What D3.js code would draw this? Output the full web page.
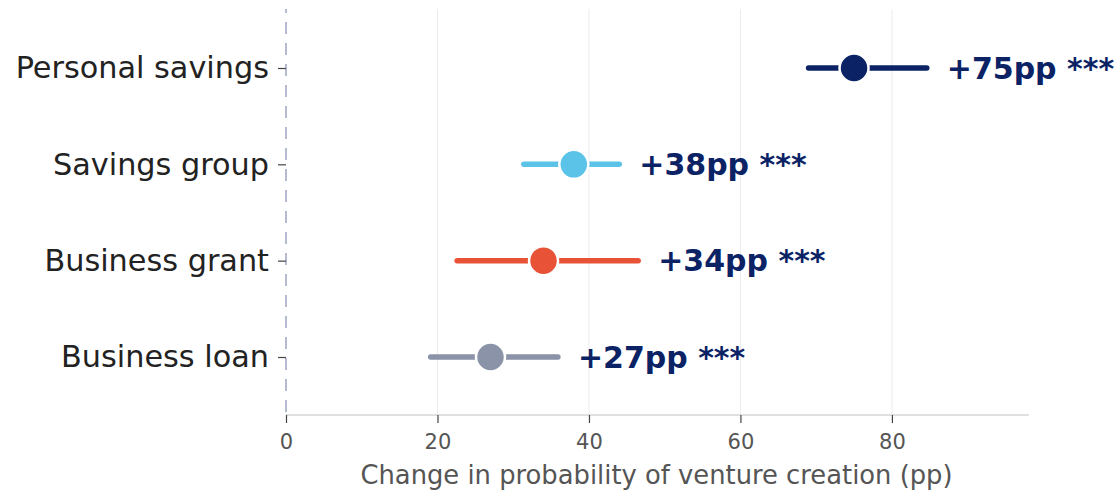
<!DOCTYPE html>
<html>
<head>
<meta charset="utf-8">
<script src="https://cdn.jsdelivr.net/npm/d3@7"></script>
<style>
  html, body { margin: 0; padding: 0; background: #ffffff; }
  svg { display: block; }
</style>
</head>
<body>
<svg id="chart" width="1117" height="490"></svg>
<script>
// Estimated effects on venture creation, with confidence intervals
const categories = ["Personal savings", "Savings group", "Business grant", "Business loan"];
const estimates  = [75, 38, 34, 27];
const ciLow      = [69.0, 31.4, 22.6, 19.1];
const ciHigh     = [84.6, 44.0, 46.5, 35.9];
const pointLabels = ["+75pp ***", "+38pp ***", "+34pp ***", "+27pp ***"];
const colors     = ["#0b2265", "#5bc3e8", "#e85237", "#8a93a8"];
const xTicks     = [0, 20, 40, 60, 80];
const xTitle     = "Change in probability of venture creation (pp)";

const rows = categories.map((c, i) => ({
  cat: c, est: estimates[i], lo: ciLow[i], hi: ciHigh[i],
  label: pointLabels[i], color: colors[i]
}));

const svg = d3.select("#chart");
const plot = { left: 286, right: 1029, top: 9, bottom: 415 };
const font = "'DejaVu Sans', sans-serif";

const x = d3.scaleLinear().domain([0, 98.1]).range([plot.left, plot.right]);
const y = d3.scalePoint().domain(categories).range([68, 357]);

// vertical gridlines
svg.append("g")
  .selectAll("line")
  .data(xTicks.filter(t => t !== 0))
  .join("line")
  .attr("x1", d => x(d)).attr("x2", d => x(d))
  .attr("y1", plot.top).attr("y2", plot.bottom)
  .attr("stroke", "#ececf0").attr("stroke-width", 1);

// bottom spine
svg.append("line")
  .attr("x1", plot.left).attr("x2", plot.right)
  .attr("y1", plot.bottom).attr("y2", plot.bottom)
  .attr("stroke", "#d6d6d6").attr("stroke-width", 1.6);

// zero reference line
svg.append("line")
  .attr("x1", x(0)).attr("x2", x(0))
  .attr("y1", plot.top).attr("y2", plot.bottom)
  .attr("stroke", "#a3aac6").attr("stroke-width", 1.6)
  .attr("stroke-dasharray", "12,9").attr("stroke-dashoffset", 8);

// x axis
const xAxis = svg.append("g")
  .attr("transform", `translate(0,${plot.bottom})`)
  .call(d3.axisBottom(x).tickValues(xTicks).tickSize(8).tickPadding(11).tickFormat(d3.format("d")));
xAxis.select(".domain").remove();
xAxis.selectAll(".tick line").attr("stroke", "#444").attr("stroke-width", 1.2);
xAxis.selectAll(".tick text")
  .attr("fill", "#555")
  .style("font-family", font)
  .style("font-size", "21px");

svg.append("text")
  .attr("x", (plot.left + plot.right) / 2 - 1)
  .attr("y", 484)
  .attr("text-anchor", "middle")
  .attr("fill", "#555")
  .style("font-family", font)
  .style("font-size", "25.8px")
  .text(xTitle);

// y axis
const yAxis = svg.append("g")
  .attr("transform", `translate(${plot.left},0)`)
  .call(d3.axisLeft(y).tickSize(8).tickPadding(9));
yAxis.select(".domain").remove();
yAxis.selectAll(".tick line").attr("stroke", "#444").attr("stroke-width", 1.2);
yAxis.selectAll(".tick text")
  .attr("fill", "#222")
  .style("font-family", font)
  .style("font-size", "30.3px");

// confidence intervals
const g = svg.append("g");
g.selectAll("line.ci")
  .data(rows)
  .join("line")
  .attr("class", "ci")
  .attr("x1", d => x(d.lo)).attr("x2", d => x(d.hi))
  .attr("y1", d => y(d.cat)).attr("y2", d => y(d.cat))
  .attr("stroke", d => d.color)
  .attr("stroke-width", 5.5)
  .attr("stroke-linecap", "round");

// point estimates
g.selectAll("circle")
  .data(rows)
  .join("circle")
  .attr("cx", d => x(d.est)).attr("cy", d => y(d.cat))
  .attr("r", 14.5)
  .attr("fill", d => d.color)
  .attr("stroke", "#ffffff").attr("stroke-width", 2.5);

// value labels
g.selectAll("text.val")
  .data(rows)
  .join("text")
  .attr("class", "val")
  .attr("x", d => x(d.hi) + 20)
  .attr("y", d => y(d.cat))
  .attr("dy", "0.36em")
  .attr("fill", "#0b2265")
  .style("font-family", font)
  .style("font-weight", "bold")
  .style("font-size", "30px")
  .text(d => d.label);
</script>
</body>
</html>
